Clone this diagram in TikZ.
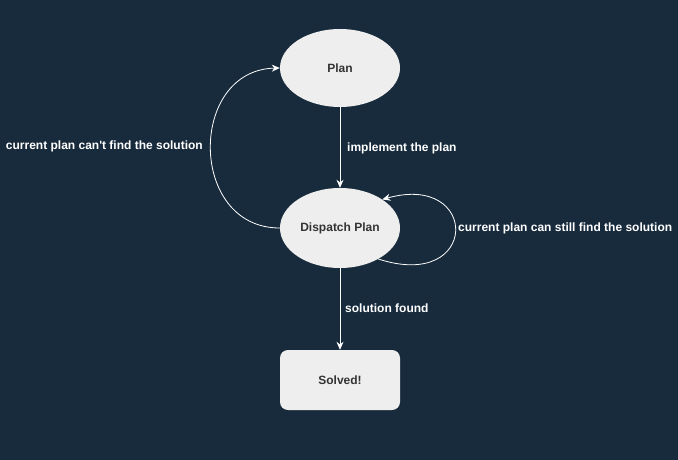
\documentclass[tikz,border=0pt]{standalone}
\usepackage{fontspec}
\setmainfont{Liberation Sans}
\usetikzlibrary{positioning,shapes,arrows.meta}
\definecolor{bgnavy}{HTML}{182B3D}
\definecolor{boxgray}{HTML}{EEEEEE}
\definecolor{txtgray}{HTML}{333333}

\begin{document}
\begin{tikzpicture}[x=1pt, y=-1pt,
  every node/.append style={font=\bfseries\fontsize{12}{14}\selectfont},
  state/.style={ellipse, fill=boxgray, text=txtgray, minimum width=120pt, minimum height=78pt, inner sep=0pt},
  goal/.style={rectangle, rounded corners=8pt, fill=boxgray, text=txtgray, minimum width=120pt, minimum height=60pt, inner sep=0pt},
  lbl/.style={text=white, inner sep=0pt},
  link/.style={draw=white, line width=0.8pt, -{Stealth[length=8pt,width=7pt]}}]
  \useasboundingbox (0,0) rectangle (678,460);
  \fill[bgnavy] (0,0) rectangle (678,460);
  \node [state] at (340,68) (plan) {Plan};
  \node [state, minimum height=80pt] at (340,228) (disp) {Dispatch Plan};
  \node [goal] at (340,380) (done) {Solved!};
  \node [lbl, anchor=west] at (347,148) (impl) {implement the plan};
  \node [lbl, anchor=west] at (345,308) (found) {solution found};
  \node [lbl, anchor=east] at (203,146) (cant) {current plan can\textquotesingle t find the solution};
  \node [lbl, anchor=west] at (458,228) (still) {current plan can still find the solution};
  \draw[link] (plan.south) -- (disp.north);
  \draw[link] (disp.south) -- (done.north);
  \draw[link] (disp.west) .. controls (188,228) and (188,70) .. (plan.west);
  \draw[link] (disp.-39) .. controls (480,292) and (480,172) .. (disp.34);
\end{tikzpicture}
\end{document}
